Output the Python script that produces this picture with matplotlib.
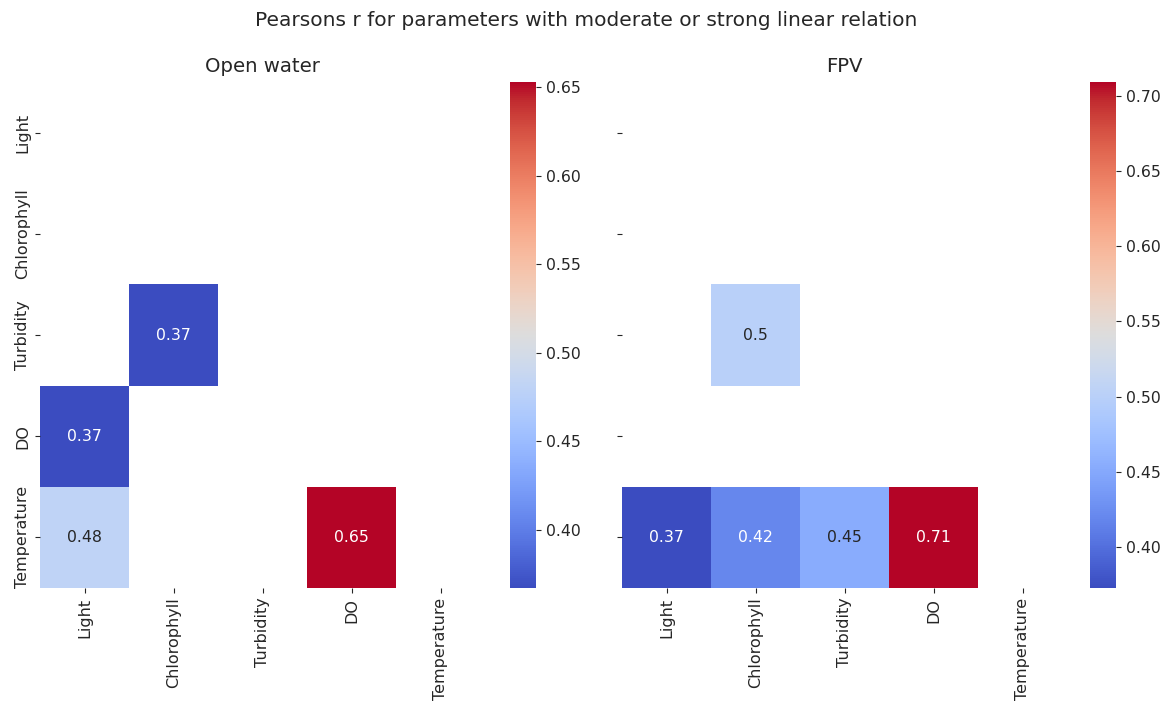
import numpy as np
import matplotlib
matplotlib.use("Agg")
import matplotlib.pyplot as plt
import seaborn as sns

params = ["Light", "Chlorophyll", "Turbidity", "DO", "Temperature"]
nan = np.nan

# Pearson's r, lower triangle; weak relations left empty
open_water = [
    [nan, nan, nan, nan, nan],
    [nan, nan, nan, nan, nan],
    [nan, 0.367, nan, nan, nan],
    [0.368, nan, nan, nan, nan],
    [0.480, nan, nan, 0.653, nan],
]
fpv = [
    [nan, nan, nan, nan, nan],
    [nan, nan, nan, nan, nan],
    [nan, 0.500, nan, nan, nan],
    [nan, nan, nan, nan, nan],
    [0.373, 0.420, 0.454, 0.709, nan],
]

TEXT = "#262626"
plt.rcParams["text.color"] = TEXT
plt.rcParams["xtick.color"] = TEXT
plt.rcParams["ytick.color"] = TEXT

W, H = 1173, 705
fig = plt.figure(figsize=(W / 100, H / 100), dpi=100)

def box(x0, y0, x1, y1):
    return [x0 / W, 1 - y1 / H, (x1 - x0) / W, (y1 - y0) / H]

panels = [
    ("Open water", open_water, box(40, 82, 485, 588), box(510, 82, 536, 588), True),
    ("FPV", fpv, box(622, 82, 1067, 588), box(1090, 82, 1116, 588), False),
]

for title, data, ax_box, cb_box, show_rows in panels:
    ax = fig.add_axes(ax_box)
    cax = fig.add_axes(cb_box)
    sns.heatmap(np.array(data), ax=ax, cbar_ax=cax, cmap="coolwarm",
                annot=True, annot_kws={"fontsize": 11.3},
                xticklabels=params, yticklabels=params)
    ax.set_title(title, fontsize=14.2, pad=7)
    ax.tick_params(axis="x", rotation=90, labelsize=11.5)
    ax.tick_params(axis="y", rotation=90, labelsize=11.5)
    if show_rows:
        for lbl in ax.get_yticklabels():
            lbl.set_va("center")
    else:
        ax.set_yticklabels([])
    cax.tick_params(labelsize=11.3)

fig.suptitle("Pearsons r for parameters with moderate or strong linear relation",
             fontsize=14.5, y=1 - 20 / H, va="center")

fig.savefig("out.png", dpi=100)
